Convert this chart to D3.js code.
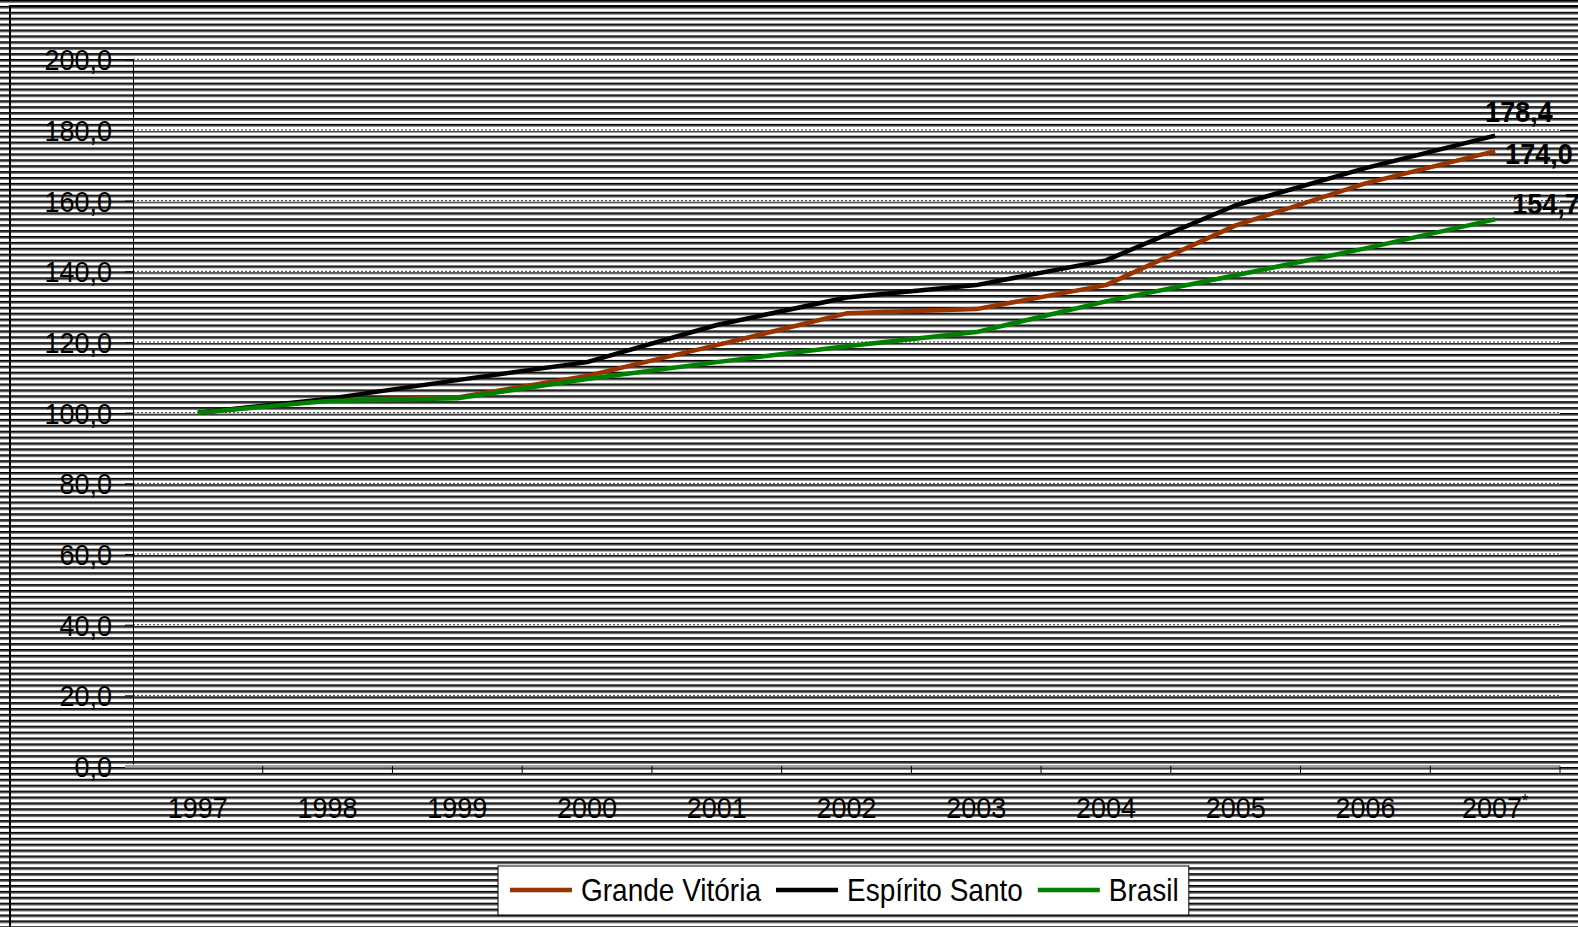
<!DOCTYPE html>
<html>
<head>
<meta charset="utf-8">
<script src="https://cdn.jsdelivr.net/npm/d3@7"></script>
<style>
  body { margin: 0; background: #fff; }
  svg { display: block; }
  text {
    font-family: "Liberation Sans", Arial, sans-serif; fill: #000;
    transform-box: fill-box; transform-origin: center; transform: scaleY(1.12);
  }
</style>
</head>
<body>
<svg id="chart" width="1578" height="927"></svg>
<script>
// index values (1997 = 100)
var years = ["1997", "1998", "1999", "2000", "2001", "2002", "2003", "2004", "2005", "2006", "2007*"];
var grandeVitoria = [100.0, 103.5, 104.3, 110.4, 119.1, 128.1, 129.3, 136.1, 153.0, 164.9, 174.0];
var espiritoSanto = [100.0, 103.9, 109.2, 114.3, 124.8, 132.6, 136.1, 143.1, 158.7, 169.2, 178.4];
var brasil        = [100.0, 103.3, 104.1, 109.5, 114.3, 118.8, 122.8, 131.5, 138.9, 146.5, 154.7];
var seriesNames = ["Grande Vitória", "Espírito Santo", "Brasil"];
var yTicks = [0, 20, 40, 60, 80, 100, 120, 140, 160, 180, 200];

const svg = d3.select("#chart"),
  width = +svg.attr("width"),
  height = +svg.attr("height");

const colors = ["#993300", "#000000", "#008000"];
const allSeries = [grandeVitoria, espiritoSanto, brasil];
const fmt = v => d3.format(".1f")(v).replace(".", ",");

// striped background
const defs = svg.append("defs");
const pat = defs.append("pattern")
  .attr("id", "stripes")
  .attr("patternUnits", "userSpaceOnUse")
  .attr("width", 20)
  .attr("height", 5.9);
pat.append("rect").attr("width", 20).attr("height", 5.9).attr("fill", "#fff");
pat.append("rect").attr("y", 0).attr("width", 20).attr("height", 1.8).attr("fill", "#000");
pat.append("rect").attr("y", 1.8).attr("width", 20).attr("height", 1.1).attr("fill", "#7a7a7a");

svg.append("rect")
  .attr("width", width).attr("height", height)
  .attr("fill", "url(#stripes)");

// outer frame (only top / left visible)
svg.append("path")
  .attr("d", `M10,${height} V6 H${width}`)
  .attr("fill", "none").attr("stroke", "#000").attr("stroke-width", 2);

const plot = { left: 133, right: 1560, top: 59.3, bottom: 766 };

const x = d3.scaleBand()
  .domain(years)
  .range([plot.left, plot.right]);

const y = d3.scaleLinear()
  .domain([0, 200])
  .range([plot.bottom, plot.top]);

const g = svg.append("g");

// gridlines
yTicks.filter(t => t > 0).forEach(t => {
  g.append("line")
    .attr("x1", plot.left).attr("x2", plot.right)
    .attr("y1", y(t)).attr("y2", y(t))
    .attr("stroke", "#fff").attr("stroke-width", 2);
  g.append("line")
    .attr("x1", plot.left).attr("x2", plot.right)
    .attr("y1", y(t)).attr("y2", y(t))
    .attr("stroke", "#333").attr("stroke-width", 1)
    .attr("stroke-dasharray", "2,2");
});

// y axis
const yAxis = g.append("g")
  .attr("transform", `translate(${plot.left},0)`)
  .call(d3.axisLeft(y).tickValues(yTicks).tickSize(8).tickPadding(14).tickFormat(fmt));
yAxis.select(".domain").attr("stroke", "#000").attr("stroke-width", 1);
yAxis.selectAll(".tick line").attr("stroke", "#000");
yAxis.selectAll(".tick text")
  .attr("font-size", 27)
  .attr("font-family", "Liberation Sans, Arial, sans-serif")
  .attr("dy", "0.35em")
  .attr("x", -21);

// x axis
g.append("line")
  .attr("x1", plot.left - 8).attr("x2", plot.right)
  .attr("y1", plot.bottom).attr("y2", plot.bottom)
  .attr("stroke", "#fff").attr("stroke-width", 3);
g.append("line")
  .attr("x1", plot.left - 8).attr("x2", plot.right)
  .attr("y1", plot.bottom).attr("y2", plot.bottom)
  .attr("stroke", "#888").attr("stroke-width", 1.5);

years.forEach((yr, i) => {
  const xr = x(yr) + x.bandwidth();
  g.append("line")
    .attr("x1", xr).attr("x2", xr)
    .attr("y1", plot.bottom).attr("y2", plot.bottom + 8)
    .attr("stroke", "#000");
  const t = g.append("text")
    .attr("x", x(yr) + x.bandwidth() / 2)
    .attr("y", 817)
    .attr("text-anchor", "middle")
    .attr("font-size", 27);
  if (yr.endsWith("*")) {
    t.append("tspan").text(yr.slice(0, -1));
    t.append("tspan").attr("font-size", 16).attr("dy", -10).text("*");
  } else {
    t.text(yr);
  }
});

// lines
const line = d3.line()
  .x((d, i) => x(years[i]) + x.bandwidth() / 2)
  .y(d => y(d));

allSeries.forEach((s, k) => {
  g.append("path")
    .datum(s)
    .attr("fill", "none")
    .attr("stroke", colors[k])
    .attr("stroke-width", 4.5)
    .attr("stroke-linejoin", "round")
    .attr("d", line);
});

// end labels
const labelOffsets = [[10, 12], [-10, -15], [17, -6]];
allSeries.forEach((s, k) => {
  const last = s.length - 1;
  g.append("text")
    .attr("x", x(years[last]) + x.bandwidth() / 2 + labelOffsets[k][0])
    .attr("y", y(s[last]) + labelOffsets[k][1])
    .attr("font-size", 27)
    .attr("font-weight", "bold")
    .text(fmt(s[last]));
});

// legend
const legend = svg.append("g");
const box = legend.append("rect")
  .attr("x", 498).attr("y", 866)
  .attr("height", 49)
  .attr("fill", "#fff")
  .attr("stroke", "#000").attr("stroke-width", 1);

let lx = 510;
seriesNames.forEach((name, k) => {
  legend.append("line")
    .attr("x1", lx).attr("x2", lx + 62)
    .attr("y1", 890).attr("y2", 890)
    .attr("stroke", colors[k]).attr("stroke-width", 4.5);
  const t = legend.append("text")
    .attr("x", lx + 71).attr("y", 900)
    .attr("font-size", 28)
    .text(name);
  lx += 71 + t.node().getComputedTextLength() + 15;
});
box.attr("width", lx - 15 + 10 - 498);
</script>
</body>
</html>
